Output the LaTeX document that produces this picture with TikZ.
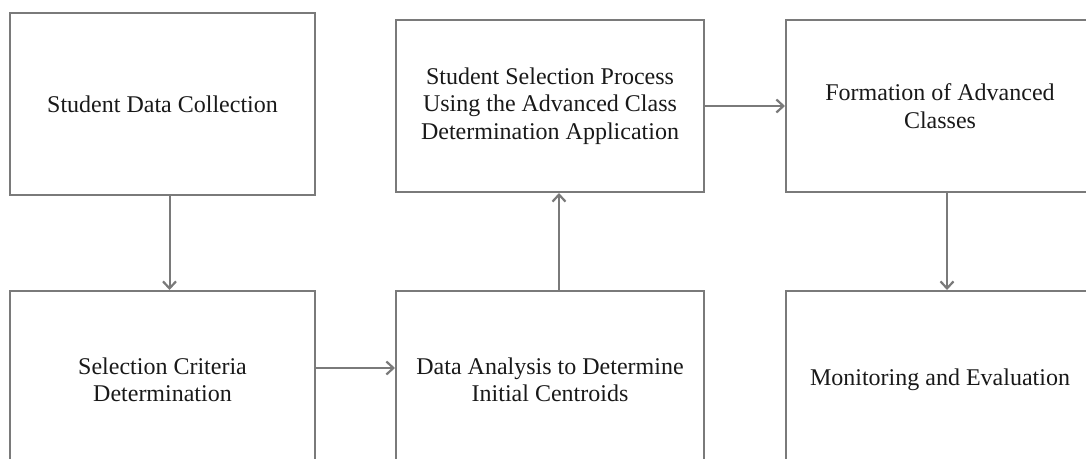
\documentclass[tikz,border=0pt]{standalone}
\usepackage{fontspec}
\setmainfont{Liberation Serif}
\usetikzlibrary{arrows.meta}
\definecolor{linegray}{HTML}{7A7A7A}
\tikzset{
  box/.style={draw=linegray, line width=2pt, minimum width=305pt, align=center, inner sep=0pt, font=\fontsize{24}{27.5}\selectfont, text=black!90},
  conn/.style={draw=linegray, line width=2pt, -{Straight Barb[length=7pt,width=13pt,line width=2.2pt]}}
}
\begin{document}
\begin{tikzpicture}[x=1pt,y=-1pt]
\useasboundingbox (0,0) rectangle (1086,458);
\clip (0,0) rectangle (1086,458);
\node[box, minimum height=182pt] (b1) at (162.5,104) {Student Data Collection};
\node[box, minimum height=178pt] (b2) at (162.5,380) {Selection Criteria\\Determination};
\node[box, minimum height=172pt, minimum width=308pt] (b3) at (550,106) {Student Selection Process\\Using the Advanced Class\\Determination Application};
\node[box, minimum height=178pt, minimum width=308pt] (b4) at (550,380) {Data Analysis to Determine\\Initial Centroids};
\node[box, minimum height=172pt, minimum width=308pt] (b5) at (940,106) {Formation of Advanced\\Classes};
\node[box, minimum height=178pt, minimum width=308pt] (b6) at (940,380) {Monitoring and Evaluation};
\draw[conn] ([xshift=7pt]b1.south) -- ([xshift=7pt]b2.north);
\draw[conn] ([yshift=12pt]b2.east) -- ([yshift=12pt]b4.west);
\draw[conn] ([xshift=9pt]b4.north) -- ([xshift=9pt]b3.south);
\draw[conn] (b3.east) -- (b5.west);
\draw[conn] ([xshift=7pt]b5.south) -- ([xshift=7pt]b6.north);
\end{tikzpicture}
\end{document}
